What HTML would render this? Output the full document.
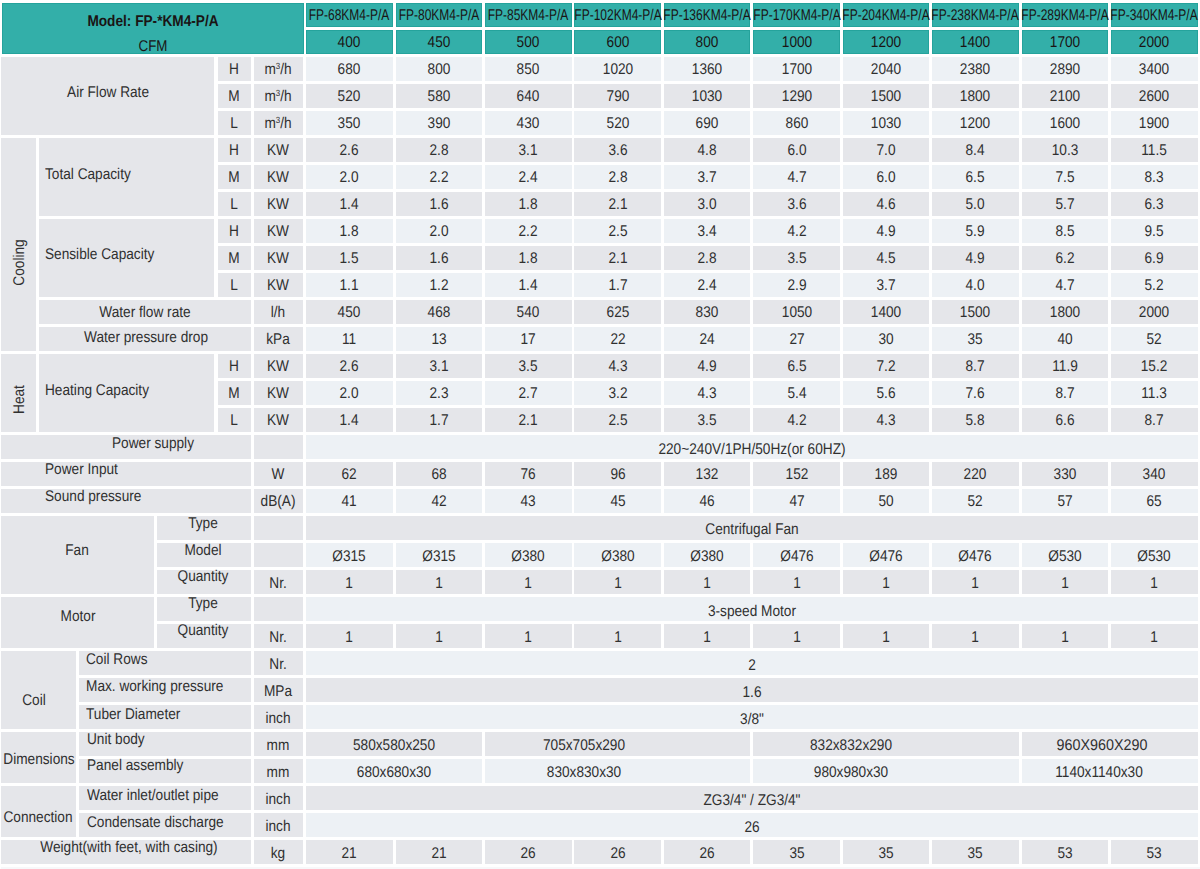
<!DOCTYPE html>
<html><head><meta charset="utf-8"><title>FP-KM4-P/A specifications</title>
<style>
html,body{margin:0;padding:0;background:#fff;text-rendering:geometricPrecision;}
#t{position:relative;width:1200px;height:869px;overflow:hidden;background:#fff;font-family:"Liberation Sans",Arial,sans-serif;color:#303030;}
#t div{position:absolute;}
.tl{background:#33afa9;box-shadow:inset 0 0 0 1px #25a39c;}
.x{white-space:nowrap;font-size:15.5px;line-height:17px;height:17px;}
.m{width:400px;text-align:center;transform-origin:200px 0;}
.l{transform-origin:0 0;}
.b{font-weight:bold;}
.h{color:#1a1414;}
sup{font-size:9px;vertical-align:0;position:relative;top:-5px;line-height:0;}
</style></head><body>
<div id="t">
<div class="tl" style="left:2.3px;top:3px;width:301.4px;height:50.8px"></div>
<div class="tl" style="left:306.15px;top:3px;width:86.6px;height:23.7px"></div>
<div class="tl" style="left:306.15px;top:30px;width:86.6px;height:23.8px"></div>
<div class="tl" style="left:395.57px;top:3px;width:86.6px;height:23.7px"></div>
<div class="tl" style="left:395.57px;top:30px;width:86.6px;height:23.8px"></div>
<div class="tl" style="left:484.99px;top:3px;width:86.6px;height:23.7px"></div>
<div class="tl" style="left:484.99px;top:30px;width:86.6px;height:23.8px"></div>
<div class="tl" style="left:574.41px;top:3px;width:86.6px;height:23.7px"></div>
<div class="tl" style="left:574.41px;top:30px;width:86.6px;height:23.8px"></div>
<div class="tl" style="left:663.83px;top:3px;width:86.6px;height:23.7px"></div>
<div class="tl" style="left:663.83px;top:30px;width:86.6px;height:23.8px"></div>
<div class="tl" style="left:753.25px;top:3px;width:86.6px;height:23.7px"></div>
<div class="tl" style="left:753.25px;top:30px;width:86.6px;height:23.8px"></div>
<div class="tl" style="left:842.67px;top:3px;width:86.6px;height:23.7px"></div>
<div class="tl" style="left:842.67px;top:30px;width:86.6px;height:23.8px"></div>
<div class="tl" style="left:932.09px;top:3px;width:86.6px;height:23.7px"></div>
<div class="tl" style="left:932.09px;top:30px;width:86.6px;height:23.8px"></div>
<div class="tl" style="left:1021.51px;top:3px;width:86.6px;height:23.7px"></div>
<div class="tl" style="left:1021.51px;top:30px;width:86.6px;height:23.8px"></div>
<div class="tl" style="left:1110.93px;top:3px;width:86.6px;height:23.7px"></div>
<div class="tl" style="left:1110.93px;top:30px;width:86.6px;height:23.8px"></div>
<div style="left:254.1px;top:57px;width:49.4px;height:24px;background:#e5e6ea"></div>
<div style="left:306.15px;top:57px;width:86.6px;height:24px;background:#edf1f5"></div>
<div style="left:395.57px;top:57px;width:86.6px;height:24px;background:#edf1f5"></div>
<div style="left:484.99px;top:57px;width:86.6px;height:24px;background:#edf1f5"></div>
<div style="left:574.41px;top:57px;width:86.6px;height:24px;background:#edf1f5"></div>
<div style="left:663.83px;top:57px;width:86.6px;height:24px;background:#edf1f5"></div>
<div style="left:753.25px;top:57px;width:86.6px;height:24px;background:#edf1f5"></div>
<div style="left:842.67px;top:57px;width:86.6px;height:24px;background:#edf1f5"></div>
<div style="left:932.09px;top:57px;width:86.6px;height:24px;background:#edf1f5"></div>
<div style="left:1021.51px;top:57px;width:86.6px;height:24px;background:#edf1f5"></div>
<div style="left:1110.93px;top:57px;width:86.6px;height:24px;background:#edf1f5"></div>
<div style="left:254.1px;top:84px;width:49.4px;height:24px;background:#e5e6ea"></div>
<div style="left:306.15px;top:84px;width:86.6px;height:24px;background:#e5e6ea"></div>
<div style="left:395.57px;top:84px;width:86.6px;height:24px;background:#e5e6ea"></div>
<div style="left:484.99px;top:84px;width:86.6px;height:24px;background:#e5e6ea"></div>
<div style="left:574.41px;top:84px;width:86.6px;height:24px;background:#e5e6ea"></div>
<div style="left:663.83px;top:84px;width:86.6px;height:24px;background:#e5e6ea"></div>
<div style="left:753.25px;top:84px;width:86.6px;height:24px;background:#e5e6ea"></div>
<div style="left:842.67px;top:84px;width:86.6px;height:24px;background:#e5e6ea"></div>
<div style="left:932.09px;top:84px;width:86.6px;height:24px;background:#e5e6ea"></div>
<div style="left:1021.51px;top:84px;width:86.6px;height:24px;background:#e5e6ea"></div>
<div style="left:1110.93px;top:84px;width:86.6px;height:24px;background:#e5e6ea"></div>
<div style="left:254.1px;top:111px;width:49.4px;height:24px;background:#e5e6ea"></div>
<div style="left:306.15px;top:111px;width:86.6px;height:24px;background:#edf1f5"></div>
<div style="left:395.57px;top:111px;width:86.6px;height:24px;background:#edf1f5"></div>
<div style="left:484.99px;top:111px;width:86.6px;height:24px;background:#edf1f5"></div>
<div style="left:574.41px;top:111px;width:86.6px;height:24px;background:#edf1f5"></div>
<div style="left:663.83px;top:111px;width:86.6px;height:24px;background:#edf1f5"></div>
<div style="left:753.25px;top:111px;width:86.6px;height:24px;background:#edf1f5"></div>
<div style="left:842.67px;top:111px;width:86.6px;height:24px;background:#edf1f5"></div>
<div style="left:932.09px;top:111px;width:86.6px;height:24px;background:#edf1f5"></div>
<div style="left:1021.51px;top:111px;width:86.6px;height:24px;background:#edf1f5"></div>
<div style="left:1110.93px;top:111px;width:86.6px;height:24px;background:#edf1f5"></div>
<div style="left:254.1px;top:138px;width:49.4px;height:24px;background:#e5e6ea"></div>
<div style="left:306.15px;top:138px;width:86.6px;height:24px;background:#e5e6ea"></div>
<div style="left:395.57px;top:138px;width:86.6px;height:24px;background:#e5e6ea"></div>
<div style="left:484.99px;top:138px;width:86.6px;height:24px;background:#e5e6ea"></div>
<div style="left:574.41px;top:138px;width:86.6px;height:24px;background:#e5e6ea"></div>
<div style="left:663.83px;top:138px;width:86.6px;height:24px;background:#e5e6ea"></div>
<div style="left:753.25px;top:138px;width:86.6px;height:24px;background:#e5e6ea"></div>
<div style="left:842.67px;top:138px;width:86.6px;height:24px;background:#e5e6ea"></div>
<div style="left:932.09px;top:138px;width:86.6px;height:24px;background:#e5e6ea"></div>
<div style="left:1021.51px;top:138px;width:86.6px;height:24px;background:#e5e6ea"></div>
<div style="left:1110.93px;top:138px;width:86.6px;height:24px;background:#e5e6ea"></div>
<div style="left:254.1px;top:165px;width:49.4px;height:24px;background:#e5e6ea"></div>
<div style="left:306.15px;top:165px;width:86.6px;height:24px;background:#edf1f5"></div>
<div style="left:395.57px;top:165px;width:86.6px;height:24px;background:#edf1f5"></div>
<div style="left:484.99px;top:165px;width:86.6px;height:24px;background:#edf1f5"></div>
<div style="left:574.41px;top:165px;width:86.6px;height:24px;background:#edf1f5"></div>
<div style="left:663.83px;top:165px;width:86.6px;height:24px;background:#edf1f5"></div>
<div style="left:753.25px;top:165px;width:86.6px;height:24px;background:#edf1f5"></div>
<div style="left:842.67px;top:165px;width:86.6px;height:24px;background:#edf1f5"></div>
<div style="left:932.09px;top:165px;width:86.6px;height:24px;background:#edf1f5"></div>
<div style="left:1021.51px;top:165px;width:86.6px;height:24px;background:#edf1f5"></div>
<div style="left:1110.93px;top:165px;width:86.6px;height:24px;background:#edf1f5"></div>
<div style="left:254.1px;top:192px;width:49.4px;height:24px;background:#e5e6ea"></div>
<div style="left:306.15px;top:192px;width:86.6px;height:24px;background:#e5e6ea"></div>
<div style="left:395.57px;top:192px;width:86.6px;height:24px;background:#e5e6ea"></div>
<div style="left:484.99px;top:192px;width:86.6px;height:24px;background:#e5e6ea"></div>
<div style="left:574.41px;top:192px;width:86.6px;height:24px;background:#e5e6ea"></div>
<div style="left:663.83px;top:192px;width:86.6px;height:24px;background:#e5e6ea"></div>
<div style="left:753.25px;top:192px;width:86.6px;height:24px;background:#e5e6ea"></div>
<div style="left:842.67px;top:192px;width:86.6px;height:24px;background:#e5e6ea"></div>
<div style="left:932.09px;top:192px;width:86.6px;height:24px;background:#e5e6ea"></div>
<div style="left:1021.51px;top:192px;width:86.6px;height:24px;background:#e5e6ea"></div>
<div style="left:1110.93px;top:192px;width:86.6px;height:24px;background:#e5e6ea"></div>
<div style="left:254.1px;top:219px;width:49.4px;height:24px;background:#e5e6ea"></div>
<div style="left:306.15px;top:219px;width:86.6px;height:24px;background:#edf1f5"></div>
<div style="left:395.57px;top:219px;width:86.6px;height:24px;background:#edf1f5"></div>
<div style="left:484.99px;top:219px;width:86.6px;height:24px;background:#edf1f5"></div>
<div style="left:574.41px;top:219px;width:86.6px;height:24px;background:#edf1f5"></div>
<div style="left:663.83px;top:219px;width:86.6px;height:24px;background:#edf1f5"></div>
<div style="left:753.25px;top:219px;width:86.6px;height:24px;background:#edf1f5"></div>
<div style="left:842.67px;top:219px;width:86.6px;height:24px;background:#edf1f5"></div>
<div style="left:932.09px;top:219px;width:86.6px;height:24px;background:#edf1f5"></div>
<div style="left:1021.51px;top:219px;width:86.6px;height:24px;background:#edf1f5"></div>
<div style="left:1110.93px;top:219px;width:86.6px;height:24px;background:#edf1f5"></div>
<div style="left:254.1px;top:246px;width:49.4px;height:24px;background:#e5e6ea"></div>
<div style="left:306.15px;top:246px;width:86.6px;height:24px;background:#e5e6ea"></div>
<div style="left:395.57px;top:246px;width:86.6px;height:24px;background:#e5e6ea"></div>
<div style="left:484.99px;top:246px;width:86.6px;height:24px;background:#e5e6ea"></div>
<div style="left:574.41px;top:246px;width:86.6px;height:24px;background:#e5e6ea"></div>
<div style="left:663.83px;top:246px;width:86.6px;height:24px;background:#e5e6ea"></div>
<div style="left:753.25px;top:246px;width:86.6px;height:24px;background:#e5e6ea"></div>
<div style="left:842.67px;top:246px;width:86.6px;height:24px;background:#e5e6ea"></div>
<div style="left:932.09px;top:246px;width:86.6px;height:24px;background:#e5e6ea"></div>
<div style="left:1021.51px;top:246px;width:86.6px;height:24px;background:#e5e6ea"></div>
<div style="left:1110.93px;top:246px;width:86.6px;height:24px;background:#e5e6ea"></div>
<div style="left:254.1px;top:273px;width:49.4px;height:24px;background:#e5e6ea"></div>
<div style="left:306.15px;top:273px;width:86.6px;height:24px;background:#edf1f5"></div>
<div style="left:395.57px;top:273px;width:86.6px;height:24px;background:#edf1f5"></div>
<div style="left:484.99px;top:273px;width:86.6px;height:24px;background:#edf1f5"></div>
<div style="left:574.41px;top:273px;width:86.6px;height:24px;background:#edf1f5"></div>
<div style="left:663.83px;top:273px;width:86.6px;height:24px;background:#edf1f5"></div>
<div style="left:753.25px;top:273px;width:86.6px;height:24px;background:#edf1f5"></div>
<div style="left:842.67px;top:273px;width:86.6px;height:24px;background:#edf1f5"></div>
<div style="left:932.09px;top:273px;width:86.6px;height:24px;background:#edf1f5"></div>
<div style="left:1021.51px;top:273px;width:86.6px;height:24px;background:#edf1f5"></div>
<div style="left:1110.93px;top:273px;width:86.6px;height:24px;background:#edf1f5"></div>
<div style="left:254.1px;top:300px;width:49.4px;height:24px;background:#e5e6ea"></div>
<div style="left:306.15px;top:300px;width:86.6px;height:24px;background:#e5e6ea"></div>
<div style="left:395.57px;top:300px;width:86.6px;height:24px;background:#e5e6ea"></div>
<div style="left:484.99px;top:300px;width:86.6px;height:24px;background:#e5e6ea"></div>
<div style="left:574.41px;top:300px;width:86.6px;height:24px;background:#e5e6ea"></div>
<div style="left:663.83px;top:300px;width:86.6px;height:24px;background:#e5e6ea"></div>
<div style="left:753.25px;top:300px;width:86.6px;height:24px;background:#e5e6ea"></div>
<div style="left:842.67px;top:300px;width:86.6px;height:24px;background:#e5e6ea"></div>
<div style="left:932.09px;top:300px;width:86.6px;height:24px;background:#e5e6ea"></div>
<div style="left:1021.51px;top:300px;width:86.6px;height:24px;background:#e5e6ea"></div>
<div style="left:1110.93px;top:300px;width:86.6px;height:24px;background:#e5e6ea"></div>
<div style="left:254.1px;top:327px;width:49.4px;height:24px;background:#e5e6ea"></div>
<div style="left:306.15px;top:327px;width:86.6px;height:24px;background:#edf1f5"></div>
<div style="left:395.57px;top:327px;width:86.6px;height:24px;background:#edf1f5"></div>
<div style="left:484.99px;top:327px;width:86.6px;height:24px;background:#edf1f5"></div>
<div style="left:574.41px;top:327px;width:86.6px;height:24px;background:#edf1f5"></div>
<div style="left:663.83px;top:327px;width:86.6px;height:24px;background:#edf1f5"></div>
<div style="left:753.25px;top:327px;width:86.6px;height:24px;background:#edf1f5"></div>
<div style="left:842.67px;top:327px;width:86.6px;height:24px;background:#edf1f5"></div>
<div style="left:932.09px;top:327px;width:86.6px;height:24px;background:#edf1f5"></div>
<div style="left:1021.51px;top:327px;width:86.6px;height:24px;background:#edf1f5"></div>
<div style="left:1110.93px;top:327px;width:86.6px;height:24px;background:#edf1f5"></div>
<div style="left:254.1px;top:354px;width:49.4px;height:24px;background:#e5e6ea"></div>
<div style="left:306.15px;top:354px;width:86.6px;height:24px;background:#e5e6ea"></div>
<div style="left:395.57px;top:354px;width:86.6px;height:24px;background:#e5e6ea"></div>
<div style="left:484.99px;top:354px;width:86.6px;height:24px;background:#e5e6ea"></div>
<div style="left:574.41px;top:354px;width:86.6px;height:24px;background:#e5e6ea"></div>
<div style="left:663.83px;top:354px;width:86.6px;height:24px;background:#e5e6ea"></div>
<div style="left:753.25px;top:354px;width:86.6px;height:24px;background:#e5e6ea"></div>
<div style="left:842.67px;top:354px;width:86.6px;height:24px;background:#e5e6ea"></div>
<div style="left:932.09px;top:354px;width:86.6px;height:24px;background:#e5e6ea"></div>
<div style="left:1021.51px;top:354px;width:86.6px;height:24px;background:#e5e6ea"></div>
<div style="left:1110.93px;top:354px;width:86.6px;height:24px;background:#e5e6ea"></div>
<div style="left:254.1px;top:381px;width:49.4px;height:24px;background:#e5e6ea"></div>
<div style="left:306.15px;top:381px;width:86.6px;height:24px;background:#edf1f5"></div>
<div style="left:395.57px;top:381px;width:86.6px;height:24px;background:#edf1f5"></div>
<div style="left:484.99px;top:381px;width:86.6px;height:24px;background:#edf1f5"></div>
<div style="left:574.41px;top:381px;width:86.6px;height:24px;background:#edf1f5"></div>
<div style="left:663.83px;top:381px;width:86.6px;height:24px;background:#edf1f5"></div>
<div style="left:753.25px;top:381px;width:86.6px;height:24px;background:#edf1f5"></div>
<div style="left:842.67px;top:381px;width:86.6px;height:24px;background:#edf1f5"></div>
<div style="left:932.09px;top:381px;width:86.6px;height:24px;background:#edf1f5"></div>
<div style="left:1021.51px;top:381px;width:86.6px;height:24px;background:#edf1f5"></div>
<div style="left:1110.93px;top:381px;width:86.6px;height:24px;background:#edf1f5"></div>
<div style="left:254.1px;top:408px;width:49.4px;height:24px;background:#e5e6ea"></div>
<div style="left:306.15px;top:408px;width:86.6px;height:24px;background:#e5e6ea"></div>
<div style="left:395.57px;top:408px;width:86.6px;height:24px;background:#e5e6ea"></div>
<div style="left:484.99px;top:408px;width:86.6px;height:24px;background:#e5e6ea"></div>
<div style="left:574.41px;top:408px;width:86.6px;height:24px;background:#e5e6ea"></div>
<div style="left:663.83px;top:408px;width:86.6px;height:24px;background:#e5e6ea"></div>
<div style="left:753.25px;top:408px;width:86.6px;height:24px;background:#e5e6ea"></div>
<div style="left:842.67px;top:408px;width:86.6px;height:24px;background:#e5e6ea"></div>
<div style="left:932.09px;top:408px;width:86.6px;height:24px;background:#e5e6ea"></div>
<div style="left:1021.51px;top:408px;width:86.6px;height:24px;background:#e5e6ea"></div>
<div style="left:1110.93px;top:408px;width:86.6px;height:24px;background:#e5e6ea"></div>
<div style="left:254.1px;top:435px;width:49.4px;height:24px;background:#e5e6ea"></div>
<div style="left:306.15px;top:435px;width:891.38px;height:24px;background:#edf1f5"></div>
<div style="left:254.1px;top:462px;width:49.4px;height:24px;background:#e5e6ea"></div>
<div style="left:306.15px;top:462px;width:86.6px;height:24px;background:#e5e6ea"></div>
<div style="left:395.57px;top:462px;width:86.6px;height:24px;background:#e5e6ea"></div>
<div style="left:484.99px;top:462px;width:86.6px;height:24px;background:#e5e6ea"></div>
<div style="left:574.41px;top:462px;width:86.6px;height:24px;background:#e5e6ea"></div>
<div style="left:663.83px;top:462px;width:86.6px;height:24px;background:#e5e6ea"></div>
<div style="left:753.25px;top:462px;width:86.6px;height:24px;background:#e5e6ea"></div>
<div style="left:842.67px;top:462px;width:86.6px;height:24px;background:#e5e6ea"></div>
<div style="left:932.09px;top:462px;width:86.6px;height:24px;background:#e5e6ea"></div>
<div style="left:1021.51px;top:462px;width:86.6px;height:24px;background:#e5e6ea"></div>
<div style="left:1110.93px;top:462px;width:86.6px;height:24px;background:#e5e6ea"></div>
<div style="left:254.1px;top:489px;width:49.4px;height:24px;background:#e5e6ea"></div>
<div style="left:306.15px;top:489px;width:86.6px;height:24px;background:#edf1f5"></div>
<div style="left:395.57px;top:489px;width:86.6px;height:24px;background:#edf1f5"></div>
<div style="left:484.99px;top:489px;width:86.6px;height:24px;background:#edf1f5"></div>
<div style="left:574.41px;top:489px;width:86.6px;height:24px;background:#edf1f5"></div>
<div style="left:663.83px;top:489px;width:86.6px;height:24px;background:#edf1f5"></div>
<div style="left:753.25px;top:489px;width:86.6px;height:24px;background:#edf1f5"></div>
<div style="left:842.67px;top:489px;width:86.6px;height:24px;background:#edf1f5"></div>
<div style="left:932.09px;top:489px;width:86.6px;height:24px;background:#edf1f5"></div>
<div style="left:1021.51px;top:489px;width:86.6px;height:24px;background:#edf1f5"></div>
<div style="left:1110.93px;top:489px;width:86.6px;height:24px;background:#edf1f5"></div>
<div style="left:254.1px;top:516px;width:49.4px;height:24px;background:#e5e6ea"></div>
<div style="left:306.15px;top:516px;width:891.38px;height:24px;background:#e5e6ea"></div>
<div style="left:254.1px;top:543px;width:49.4px;height:24px;background:#e5e6ea"></div>
<div style="left:306.15px;top:543px;width:86.6px;height:24px;background:#edf1f5"></div>
<div style="left:395.57px;top:543px;width:86.6px;height:24px;background:#edf1f5"></div>
<div style="left:484.99px;top:543px;width:86.6px;height:24px;background:#edf1f5"></div>
<div style="left:574.41px;top:543px;width:86.6px;height:24px;background:#edf1f5"></div>
<div style="left:663.83px;top:543px;width:86.6px;height:24px;background:#edf1f5"></div>
<div style="left:753.25px;top:543px;width:86.6px;height:24px;background:#edf1f5"></div>
<div style="left:842.67px;top:543px;width:86.6px;height:24px;background:#edf1f5"></div>
<div style="left:932.09px;top:543px;width:86.6px;height:24px;background:#edf1f5"></div>
<div style="left:1021.51px;top:543px;width:86.6px;height:24px;background:#edf1f5"></div>
<div style="left:1110.93px;top:543px;width:86.6px;height:24px;background:#edf1f5"></div>
<div style="left:254.1px;top:570px;width:49.4px;height:24px;background:#e5e6ea"></div>
<div style="left:306.15px;top:570px;width:86.6px;height:24px;background:#e5e6ea"></div>
<div style="left:395.57px;top:570px;width:86.6px;height:24px;background:#e5e6ea"></div>
<div style="left:484.99px;top:570px;width:86.6px;height:24px;background:#e5e6ea"></div>
<div style="left:574.41px;top:570px;width:86.6px;height:24px;background:#e5e6ea"></div>
<div style="left:663.83px;top:570px;width:86.6px;height:24px;background:#e5e6ea"></div>
<div style="left:753.25px;top:570px;width:86.6px;height:24px;background:#e5e6ea"></div>
<div style="left:842.67px;top:570px;width:86.6px;height:24px;background:#e5e6ea"></div>
<div style="left:932.09px;top:570px;width:86.6px;height:24px;background:#e5e6ea"></div>
<div style="left:1021.51px;top:570px;width:86.6px;height:24px;background:#e5e6ea"></div>
<div style="left:1110.93px;top:570px;width:86.6px;height:24px;background:#e5e6ea"></div>
<div style="left:254.1px;top:597px;width:49.4px;height:24px;background:#e5e6ea"></div>
<div style="left:306.15px;top:597px;width:891.38px;height:24px;background:#edf1f5"></div>
<div style="left:254.1px;top:624px;width:49.4px;height:24px;background:#e5e6ea"></div>
<div style="left:306.15px;top:624px;width:86.6px;height:24px;background:#e5e6ea"></div>
<div style="left:395.57px;top:624px;width:86.6px;height:24px;background:#e5e6ea"></div>
<div style="left:484.99px;top:624px;width:86.6px;height:24px;background:#e5e6ea"></div>
<div style="left:574.41px;top:624px;width:86.6px;height:24px;background:#e5e6ea"></div>
<div style="left:663.83px;top:624px;width:86.6px;height:24px;background:#e5e6ea"></div>
<div style="left:753.25px;top:624px;width:86.6px;height:24px;background:#e5e6ea"></div>
<div style="left:842.67px;top:624px;width:86.6px;height:24px;background:#e5e6ea"></div>
<div style="left:932.09px;top:624px;width:86.6px;height:24px;background:#e5e6ea"></div>
<div style="left:1021.51px;top:624px;width:86.6px;height:24px;background:#e5e6ea"></div>
<div style="left:1110.93px;top:624px;width:86.6px;height:24px;background:#e5e6ea"></div>
<div style="left:254.1px;top:651px;width:49.4px;height:24px;background:#e5e6ea"></div>
<div style="left:306.15px;top:651px;width:891.38px;height:24px;background:#edf1f5"></div>
<div style="left:254.1px;top:678px;width:49.4px;height:24px;background:#e5e6ea"></div>
<div style="left:306.15px;top:678px;width:891.38px;height:24px;background:#e5e6ea"></div>
<div style="left:254.1px;top:705px;width:49.4px;height:24px;background:#e5e6ea"></div>
<div style="left:306.15px;top:705px;width:891.38px;height:24px;background:#edf1f5"></div>
<div style="left:254.1px;top:732px;width:49.4px;height:24px;background:#e5e6ea"></div>
<div style="left:306.15px;top:732px;width:176.02px;height:24px;background:#e5e6ea"></div>
<div style="left:484.99px;top:732px;width:265.44px;height:24px;background:#e5e6ea"></div>
<div style="left:753.25px;top:732px;width:265.44px;height:24px;background:#e5e6ea"></div>
<div style="left:1021.51px;top:732px;width:176.02px;height:24px;background:#e5e6ea"></div>
<div style="left:254.1px;top:759px;width:49.4px;height:24px;background:#e5e6ea"></div>
<div style="left:306.15px;top:759px;width:176.02px;height:24px;background:#edf1f5"></div>
<div style="left:484.99px;top:759px;width:265.44px;height:24px;background:#edf1f5"></div>
<div style="left:753.25px;top:759px;width:265.44px;height:24px;background:#edf1f5"></div>
<div style="left:1021.51px;top:759px;width:176.02px;height:24px;background:#edf1f5"></div>
<div style="left:254.1px;top:786px;width:49.4px;height:24px;background:#e5e6ea"></div>
<div style="left:306.15px;top:786px;width:891.38px;height:24px;background:#e5e6ea"></div>
<div style="left:254.1px;top:813px;width:49.4px;height:24px;background:#e5e6ea"></div>
<div style="left:306.15px;top:813px;width:891.38px;height:24px;background:#edf1f5"></div>
<div style="left:254.1px;top:840px;width:49.4px;height:24px;background:#e5e6ea"></div>
<div style="left:306.15px;top:840px;width:86.6px;height:24px;background:#e5e6ea"></div>
<div style="left:395.57px;top:840px;width:86.6px;height:24px;background:#e5e6ea"></div>
<div style="left:484.99px;top:840px;width:86.6px;height:24px;background:#e5e6ea"></div>
<div style="left:574.41px;top:840px;width:86.6px;height:24px;background:#e5e6ea"></div>
<div style="left:663.83px;top:840px;width:86.6px;height:24px;background:#e5e6ea"></div>
<div style="left:753.25px;top:840px;width:86.6px;height:24px;background:#e5e6ea"></div>
<div style="left:842.67px;top:840px;width:86.6px;height:24px;background:#e5e6ea"></div>
<div style="left:932.09px;top:840px;width:86.6px;height:24px;background:#e5e6ea"></div>
<div style="left:1021.51px;top:840px;width:86.6px;height:24px;background:#e5e6ea"></div>
<div style="left:1110.93px;top:840px;width:86.6px;height:24px;background:#e5e6ea"></div>
<div style="left:1.2px;top:57px;width:213.2px;height:78px;background:#e5e6ea"></div>
<div style="left:217.6px;top:57px;width:33.2px;height:24px;background:#e5e6ea"></div>
<div style="left:217.6px;top:84px;width:33.2px;height:24px;background:#e5e6ea"></div>
<div style="left:217.6px;top:111px;width:33.2px;height:24px;background:#e5e6ea"></div>
<div style="left:1.2px;top:138px;width:34.6px;height:213px;background:#e5e6ea"></div>
<div style="left:39.2px;top:138px;width:175.2px;height:78px;background:#e5e6ea"></div>
<div style="left:39.2px;top:219px;width:175.2px;height:78px;background:#e5e6ea"></div>
<div style="left:217.6px;top:138px;width:33.2px;height:24px;background:#e5e6ea"></div>
<div style="left:217.6px;top:165px;width:33.2px;height:24px;background:#e5e6ea"></div>
<div style="left:217.6px;top:192px;width:33.2px;height:24px;background:#e5e6ea"></div>
<div style="left:217.6px;top:219px;width:33.2px;height:24px;background:#e5e6ea"></div>
<div style="left:217.6px;top:246px;width:33.2px;height:24px;background:#e5e6ea"></div>
<div style="left:217.6px;top:273px;width:33.2px;height:24px;background:#e5e6ea"></div>
<div style="left:39.2px;top:300px;width:211.6px;height:24px;background:#e5e6ea"></div>
<div style="left:39.2px;top:327px;width:211.6px;height:24px;background:#e5e6ea"></div>
<div style="left:1.2px;top:354px;width:34.6px;height:78px;background:#e5e6ea"></div>
<div style="left:39.2px;top:354px;width:175.2px;height:78px;background:#e5e6ea"></div>
<div style="left:217.6px;top:354px;width:33.2px;height:24px;background:#e5e6ea"></div>
<div style="left:217.6px;top:381px;width:33.2px;height:24px;background:#e5e6ea"></div>
<div style="left:217.6px;top:408px;width:33.2px;height:24px;background:#e5e6ea"></div>
<div style="left:1.2px;top:435px;width:249.6px;height:24px;background:#e5e6ea"></div>
<div style="left:1.2px;top:462px;width:249.6px;height:24px;background:#e5e6ea"></div>
<div style="left:1.2px;top:489px;width:249.6px;height:24px;background:#e5e6ea"></div>
<div style="left:1.2px;top:516px;width:152.8px;height:78px;background:#e5e6ea"></div>
<div style="left:156.6px;top:516px;width:94.2px;height:24px;background:#e5e6ea"></div>
<div style="left:156.6px;top:543px;width:94.2px;height:24px;background:#e5e6ea"></div>
<div style="left:156.6px;top:570px;width:94.2px;height:24px;background:#e5e6ea"></div>
<div style="left:1.2px;top:597px;width:152.8px;height:51px;background:#e5e6ea"></div>
<div style="left:156.6px;top:597px;width:94.2px;height:24px;background:#e5e6ea"></div>
<div style="left:156.6px;top:624px;width:94.2px;height:24px;background:#e5e6ea"></div>
<div style="left:1.2px;top:651px;width:74.8px;height:78px;background:#e5e6ea"></div>
<div style="left:78.7px;top:651px;width:172.1px;height:24px;background:#e5e6ea"></div>
<div style="left:78.7px;top:678px;width:172.1px;height:24px;background:#e5e6ea"></div>
<div style="left:78.7px;top:705px;width:172.1px;height:24px;background:#e5e6ea"></div>
<div style="left:1.2px;top:732px;width:74.8px;height:51px;background:#e5e6ea"></div>
<div style="left:78.7px;top:732px;width:172.1px;height:24px;background:#e5e6ea"></div>
<div style="left:78.7px;top:759px;width:172.1px;height:24px;background:#e5e6ea"></div>
<div style="left:1.2px;top:786px;width:74.8px;height:51px;background:#e5e6ea"></div>
<div style="left:78.7px;top:786px;width:172.1px;height:24px;background:#e5e6ea"></div>
<div style="left:78.7px;top:813px;width:172.1px;height:24px;background:#e5e6ea"></div>
<div style="left:1.2px;top:840px;width:249.6px;height:24px;background:#e5e6ea"></div>
<div style="left:1px;top:867px;width:1199px;height:2px;background:#f7f8fa"></div>
<div class="x b h m" style="left:-46.8px;top:12.7px;transform:scaleX(0.881)">Model: FP-*KM4-P/A</div>
<div class="x h m" style="left:-47.3px;top:37.7px;transform:scaleX(0.861)">CFM</div>
<div class="x h m" style="left:149.45px;top:6.6px;transform:scaleX(0.774)">FP-68KM4-P/A</div>
<div class="x h m" style="left:149.45px;top:33.6px;transform:scaleX(0.881)">400</div>
<div class="x h m" style="left:238.87px;top:6.6px;transform:scaleX(0.774)">FP-80KM4-P/A</div>
<div class="x h m" style="left:238.87px;top:33.6px;transform:scaleX(0.881)">450</div>
<div class="x h m" style="left:328.29px;top:6.6px;transform:scaleX(0.774)">FP-85KM4-P/A</div>
<div class="x h m" style="left:328.29px;top:33.6px;transform:scaleX(0.881)">500</div>
<div class="x h m" style="left:417.71px;top:6.6px;transform:scaleX(0.774)">FP-102KM4-P/A</div>
<div class="x h m" style="left:417.71px;top:33.6px;transform:scaleX(0.881)">600</div>
<div class="x h m" style="left:507.13px;top:6.6px;transform:scaleX(0.774)">FP-136KM4-P/A</div>
<div class="x h m" style="left:507.13px;top:33.6px;transform:scaleX(0.881)">800</div>
<div class="x h m" style="left:596.55px;top:6.6px;transform:scaleX(0.774)">FP-170KM4-P/A</div>
<div class="x h m" style="left:596.55px;top:33.6px;transform:scaleX(0.881)">1000</div>
<div class="x h m" style="left:685.97px;top:6.6px;transform:scaleX(0.774)">FP-204KM4-P/A</div>
<div class="x h m" style="left:685.97px;top:33.6px;transform:scaleX(0.881)">1200</div>
<div class="x h m" style="left:775.39px;top:6.6px;transform:scaleX(0.774)">FP-238KM4-P/A</div>
<div class="x h m" style="left:775.39px;top:33.6px;transform:scaleX(0.881)">1400</div>
<div class="x h m" style="left:864.81px;top:6.6px;transform:scaleX(0.774)">FP-289KM4-P/A</div>
<div class="x h m" style="left:864.81px;top:33.6px;transform:scaleX(0.881)">1700</div>
<div class="x h m" style="left:954.23px;top:6.6px;transform:scaleX(0.774)">FP-340KM4-P/A</div>
<div class="x h m" style="left:954.23px;top:33.6px;transform:scaleX(0.881)">2000</div>
<div class="x m" style="left:77.8px;top:60.9px;transform:scaleX(0.881)">m<sup>3</sup>/h</div>
<div class="x m" style="left:149.45px;top:60.9px;transform:scaleX(0.881)">680</div>
<div class="x m" style="left:238.87px;top:60.9px;transform:scaleX(0.881)">800</div>
<div class="x m" style="left:328.29px;top:60.9px;transform:scaleX(0.881)">850</div>
<div class="x m" style="left:417.71px;top:60.9px;transform:scaleX(0.881)">1020</div>
<div class="x m" style="left:507.13px;top:60.9px;transform:scaleX(0.881)">1360</div>
<div class="x m" style="left:596.55px;top:60.9px;transform:scaleX(0.881)">1700</div>
<div class="x m" style="left:685.97px;top:60.9px;transform:scaleX(0.881)">2040</div>
<div class="x m" style="left:775.39px;top:60.9px;transform:scaleX(0.881)">2380</div>
<div class="x m" style="left:864.81px;top:60.9px;transform:scaleX(0.881)">2890</div>
<div class="x m" style="left:954.23px;top:60.9px;transform:scaleX(0.881)">3400</div>
<div class="x m" style="left:77.8px;top:87.9px;transform:scaleX(0.881)">m<sup>3</sup>/h</div>
<div class="x m" style="left:149.45px;top:87.9px;transform:scaleX(0.881)">520</div>
<div class="x m" style="left:238.87px;top:87.9px;transform:scaleX(0.881)">580</div>
<div class="x m" style="left:328.29px;top:87.9px;transform:scaleX(0.881)">640</div>
<div class="x m" style="left:417.71px;top:87.9px;transform:scaleX(0.881)">790</div>
<div class="x m" style="left:507.13px;top:87.9px;transform:scaleX(0.881)">1030</div>
<div class="x m" style="left:596.55px;top:87.9px;transform:scaleX(0.881)">1290</div>
<div class="x m" style="left:685.97px;top:87.9px;transform:scaleX(0.881)">1500</div>
<div class="x m" style="left:775.39px;top:87.9px;transform:scaleX(0.881)">1800</div>
<div class="x m" style="left:864.81px;top:87.9px;transform:scaleX(0.881)">2100</div>
<div class="x m" style="left:954.23px;top:87.9px;transform:scaleX(0.881)">2600</div>
<div class="x m" style="left:77.8px;top:114.9px;transform:scaleX(0.881)">m<sup>3</sup>/h</div>
<div class="x m" style="left:149.45px;top:114.9px;transform:scaleX(0.881)">350</div>
<div class="x m" style="left:238.87px;top:114.9px;transform:scaleX(0.881)">390</div>
<div class="x m" style="left:328.29px;top:114.9px;transform:scaleX(0.881)">430</div>
<div class="x m" style="left:417.71px;top:114.9px;transform:scaleX(0.881)">520</div>
<div class="x m" style="left:507.13px;top:114.9px;transform:scaleX(0.881)">690</div>
<div class="x m" style="left:596.55px;top:114.9px;transform:scaleX(0.881)">860</div>
<div class="x m" style="left:685.97px;top:114.9px;transform:scaleX(0.881)">1030</div>
<div class="x m" style="left:775.39px;top:114.9px;transform:scaleX(0.881)">1200</div>
<div class="x m" style="left:864.81px;top:114.9px;transform:scaleX(0.881)">1600</div>
<div class="x m" style="left:954.23px;top:114.9px;transform:scaleX(0.881)">1900</div>
<div class="x m" style="left:77.8px;top:141.9px;transform:scaleX(0.881)">KW</div>
<div class="x m" style="left:149.45px;top:141.9px;transform:scaleX(0.881)">2.6</div>
<div class="x m" style="left:238.87px;top:141.9px;transform:scaleX(0.881)">2.8</div>
<div class="x m" style="left:328.29px;top:141.9px;transform:scaleX(0.881)">3.1</div>
<div class="x m" style="left:417.71px;top:141.9px;transform:scaleX(0.881)">3.6</div>
<div class="x m" style="left:507.13px;top:141.9px;transform:scaleX(0.881)">4.8</div>
<div class="x m" style="left:596.55px;top:141.9px;transform:scaleX(0.881)">6.0</div>
<div class="x m" style="left:685.97px;top:141.9px;transform:scaleX(0.881)">7.0</div>
<div class="x m" style="left:775.39px;top:141.9px;transform:scaleX(0.881)">8.4</div>
<div class="x m" style="left:864.81px;top:141.9px;transform:scaleX(0.881)">10.3</div>
<div class="x m" style="left:954.23px;top:141.9px;transform:scaleX(0.881)">11.5</div>
<div class="x m" style="left:77.8px;top:168.9px;transform:scaleX(0.881)">KW</div>
<div class="x m" style="left:149.45px;top:168.9px;transform:scaleX(0.881)">2.0</div>
<div class="x m" style="left:238.87px;top:168.9px;transform:scaleX(0.881)">2.2</div>
<div class="x m" style="left:328.29px;top:168.9px;transform:scaleX(0.881)">2.4</div>
<div class="x m" style="left:417.71px;top:168.9px;transform:scaleX(0.881)">2.8</div>
<div class="x m" style="left:507.13px;top:168.9px;transform:scaleX(0.881)">3.7</div>
<div class="x m" style="left:596.55px;top:168.9px;transform:scaleX(0.881)">4.7</div>
<div class="x m" style="left:685.97px;top:168.9px;transform:scaleX(0.881)">6.0</div>
<div class="x m" style="left:775.39px;top:168.9px;transform:scaleX(0.881)">6.5</div>
<div class="x m" style="left:864.81px;top:168.9px;transform:scaleX(0.881)">7.5</div>
<div class="x m" style="left:954.23px;top:168.9px;transform:scaleX(0.881)">8.3</div>
<div class="x m" style="left:77.8px;top:195.9px;transform:scaleX(0.881)">KW</div>
<div class="x m" style="left:149.45px;top:195.9px;transform:scaleX(0.881)">1.4</div>
<div class="x m" style="left:238.87px;top:195.9px;transform:scaleX(0.881)">1.6</div>
<div class="x m" style="left:328.29px;top:195.9px;transform:scaleX(0.881)">1.8</div>
<div class="x m" style="left:417.71px;top:195.9px;transform:scaleX(0.881)">2.1</div>
<div class="x m" style="left:507.13px;top:195.9px;transform:scaleX(0.881)">3.0</div>
<div class="x m" style="left:596.55px;top:195.9px;transform:scaleX(0.881)">3.6</div>
<div class="x m" style="left:685.97px;top:195.9px;transform:scaleX(0.881)">4.6</div>
<div class="x m" style="left:775.39px;top:195.9px;transform:scaleX(0.881)">5.0</div>
<div class="x m" style="left:864.81px;top:195.9px;transform:scaleX(0.881)">5.7</div>
<div class="x m" style="left:954.23px;top:195.9px;transform:scaleX(0.881)">6.3</div>
<div class="x m" style="left:77.8px;top:222.9px;transform:scaleX(0.881)">KW</div>
<div class="x m" style="left:149.45px;top:222.9px;transform:scaleX(0.881)">1.8</div>
<div class="x m" style="left:238.87px;top:222.9px;transform:scaleX(0.881)">2.0</div>
<div class="x m" style="left:328.29px;top:222.9px;transform:scaleX(0.881)">2.2</div>
<div class="x m" style="left:417.71px;top:222.9px;transform:scaleX(0.881)">2.5</div>
<div class="x m" style="left:507.13px;top:222.9px;transform:scaleX(0.881)">3.4</div>
<div class="x m" style="left:596.55px;top:222.9px;transform:scaleX(0.881)">4.2</div>
<div class="x m" style="left:685.97px;top:222.9px;transform:scaleX(0.881)">4.9</div>
<div class="x m" style="left:775.39px;top:222.9px;transform:scaleX(0.881)">5.9</div>
<div class="x m" style="left:864.81px;top:222.9px;transform:scaleX(0.881)">8.5</div>
<div class="x m" style="left:954.23px;top:222.9px;transform:scaleX(0.881)">9.5</div>
<div class="x m" style="left:77.8px;top:249.9px;transform:scaleX(0.881)">KW</div>
<div class="x m" style="left:149.45px;top:249.9px;transform:scaleX(0.881)">1.5</div>
<div class="x m" style="left:238.87px;top:249.9px;transform:scaleX(0.881)">1.6</div>
<div class="x m" style="left:328.29px;top:249.9px;transform:scaleX(0.881)">1.8</div>
<div class="x m" style="left:417.71px;top:249.9px;transform:scaleX(0.881)">2.1</div>
<div class="x m" style="left:507.13px;top:249.9px;transform:scaleX(0.881)">2.8</div>
<div class="x m" style="left:596.55px;top:249.9px;transform:scaleX(0.881)">3.5</div>
<div class="x m" style="left:685.97px;top:249.9px;transform:scaleX(0.881)">4.5</div>
<div class="x m" style="left:775.39px;top:249.9px;transform:scaleX(0.881)">4.9</div>
<div class="x m" style="left:864.81px;top:249.9px;transform:scaleX(0.881)">6.2</div>
<div class="x m" style="left:954.23px;top:249.9px;transform:scaleX(0.881)">6.9</div>
<div class="x m" style="left:77.8px;top:276.9px;transform:scaleX(0.881)">KW</div>
<div class="x m" style="left:149.45px;top:276.9px;transform:scaleX(0.881)">1.1</div>
<div class="x m" style="left:238.87px;top:276.9px;transform:scaleX(0.881)">1.2</div>
<div class="x m" style="left:328.29px;top:276.9px;transform:scaleX(0.881)">1.4</div>
<div class="x m" style="left:417.71px;top:276.9px;transform:scaleX(0.881)">1.7</div>
<div class="x m" style="left:507.13px;top:276.9px;transform:scaleX(0.881)">2.4</div>
<div class="x m" style="left:596.55px;top:276.9px;transform:scaleX(0.881)">2.9</div>
<div class="x m" style="left:685.97px;top:276.9px;transform:scaleX(0.881)">3.7</div>
<div class="x m" style="left:775.39px;top:276.9px;transform:scaleX(0.881)">4.0</div>
<div class="x m" style="left:864.81px;top:276.9px;transform:scaleX(0.881)">4.7</div>
<div class="x m" style="left:954.23px;top:276.9px;transform:scaleX(0.881)">5.2</div>
<div class="x m" style="left:77.8px;top:303.9px;transform:scaleX(0.881)">l/h</div>
<div class="x m" style="left:149.45px;top:303.9px;transform:scaleX(0.881)">450</div>
<div class="x m" style="left:238.87px;top:303.9px;transform:scaleX(0.881)">468</div>
<div class="x m" style="left:328.29px;top:303.9px;transform:scaleX(0.881)">540</div>
<div class="x m" style="left:417.71px;top:303.9px;transform:scaleX(0.881)">625</div>
<div class="x m" style="left:507.13px;top:303.9px;transform:scaleX(0.881)">830</div>
<div class="x m" style="left:596.55px;top:303.9px;transform:scaleX(0.881)">1050</div>
<div class="x m" style="left:685.97px;top:303.9px;transform:scaleX(0.881)">1400</div>
<div class="x m" style="left:775.39px;top:303.9px;transform:scaleX(0.881)">1500</div>
<div class="x m" style="left:864.81px;top:303.9px;transform:scaleX(0.881)">1800</div>
<div class="x m" style="left:954.23px;top:303.9px;transform:scaleX(0.881)">2000</div>
<div class="x m" style="left:77.8px;top:330.9px;transform:scaleX(0.881)">kPa</div>
<div class="x m" style="left:149.45px;top:330.9px;transform:scaleX(0.881)">11</div>
<div class="x m" style="left:238.87px;top:330.9px;transform:scaleX(0.881)">13</div>
<div class="x m" style="left:328.29px;top:330.9px;transform:scaleX(0.881)">17</div>
<div class="x m" style="left:417.71px;top:330.9px;transform:scaleX(0.881)">22</div>
<div class="x m" style="left:507.13px;top:330.9px;transform:scaleX(0.881)">24</div>
<div class="x m" style="left:596.55px;top:330.9px;transform:scaleX(0.881)">27</div>
<div class="x m" style="left:685.97px;top:330.9px;transform:scaleX(0.881)">30</div>
<div class="x m" style="left:775.39px;top:330.9px;transform:scaleX(0.881)">35</div>
<div class="x m" style="left:864.81px;top:330.9px;transform:scaleX(0.881)">40</div>
<div class="x m" style="left:954.23px;top:330.9px;transform:scaleX(0.881)">52</div>
<div class="x m" style="left:77.8px;top:357.9px;transform:scaleX(0.881)">KW</div>
<div class="x m" style="left:149.45px;top:357.9px;transform:scaleX(0.881)">2.6</div>
<div class="x m" style="left:238.87px;top:357.9px;transform:scaleX(0.881)">3.1</div>
<div class="x m" style="left:328.29px;top:357.9px;transform:scaleX(0.881)">3.5</div>
<div class="x m" style="left:417.71px;top:357.9px;transform:scaleX(0.881)">4.3</div>
<div class="x m" style="left:507.13px;top:357.9px;transform:scaleX(0.881)">4.9</div>
<div class="x m" style="left:596.55px;top:357.9px;transform:scaleX(0.881)">6.5</div>
<div class="x m" style="left:685.97px;top:357.9px;transform:scaleX(0.881)">7.2</div>
<div class="x m" style="left:775.39px;top:357.9px;transform:scaleX(0.881)">8.7</div>
<div class="x m" style="left:864.81px;top:357.9px;transform:scaleX(0.881)">11.9</div>
<div class="x m" style="left:954.23px;top:357.9px;transform:scaleX(0.881)">15.2</div>
<div class="x m" style="left:77.8px;top:384.9px;transform:scaleX(0.881)">KW</div>
<div class="x m" style="left:149.45px;top:384.9px;transform:scaleX(0.881)">2.0</div>
<div class="x m" style="left:238.87px;top:384.9px;transform:scaleX(0.881)">2.3</div>
<div class="x m" style="left:328.29px;top:384.9px;transform:scaleX(0.881)">2.7</div>
<div class="x m" style="left:417.71px;top:384.9px;transform:scaleX(0.881)">3.2</div>
<div class="x m" style="left:507.13px;top:384.9px;transform:scaleX(0.881)">4.3</div>
<div class="x m" style="left:596.55px;top:384.9px;transform:scaleX(0.881)">5.4</div>
<div class="x m" style="left:685.97px;top:384.9px;transform:scaleX(0.881)">5.6</div>
<div class="x m" style="left:775.39px;top:384.9px;transform:scaleX(0.881)">7.6</div>
<div class="x m" style="left:864.81px;top:384.9px;transform:scaleX(0.881)">8.7</div>
<div class="x m" style="left:954.23px;top:384.9px;transform:scaleX(0.881)">11.3</div>
<div class="x m" style="left:77.8px;top:412.01px;transform:scaleX(0.881)">KW</div>
<div class="x m" style="left:149.45px;top:412.01px;transform:scaleX(0.881)">1.4</div>
<div class="x m" style="left:238.87px;top:412.01px;transform:scaleX(0.881)">1.7</div>
<div class="x m" style="left:328.29px;top:412.01px;transform:scaleX(0.881)">2.1</div>
<div class="x m" style="left:417.71px;top:412.01px;transform:scaleX(0.881)">2.5</div>
<div class="x m" style="left:507.13px;top:412.01px;transform:scaleX(0.881)">3.5</div>
<div class="x m" style="left:596.55px;top:412.01px;transform:scaleX(0.881)">4.2</div>
<div class="x m" style="left:685.97px;top:412.01px;transform:scaleX(0.881)">4.3</div>
<div class="x m" style="left:775.39px;top:412.01px;transform:scaleX(0.881)">5.8</div>
<div class="x m" style="left:864.81px;top:412.01px;transform:scaleX(0.881)">6.6</div>
<div class="x m" style="left:954.23px;top:412.01px;transform:scaleX(0.881)">8.7</div>
<div class="x m" style="left:551.84px;top:440.9px;transform:scaleX(0.881)">220~240V/1PH/50Hz(or 60HZ)</div>
<div class="x m" style="left:77.8px;top:466.23px;transform:scaleX(0.881)">W</div>
<div class="x m" style="left:149.45px;top:466.23px;transform:scaleX(0.881)">62</div>
<div class="x m" style="left:238.87px;top:466.23px;transform:scaleX(0.881)">68</div>
<div class="x m" style="left:328.29px;top:466.23px;transform:scaleX(0.881)">76</div>
<div class="x m" style="left:417.71px;top:466.23px;transform:scaleX(0.881)">96</div>
<div class="x m" style="left:507.13px;top:466.23px;transform:scaleX(0.881)">132</div>
<div class="x m" style="left:596.55px;top:466.23px;transform:scaleX(0.881)">152</div>
<div class="x m" style="left:685.97px;top:466.23px;transform:scaleX(0.881)">189</div>
<div class="x m" style="left:775.39px;top:466.23px;transform:scaleX(0.881)">220</div>
<div class="x m" style="left:864.81px;top:466.23px;transform:scaleX(0.881)">330</div>
<div class="x m" style="left:954.23px;top:466.23px;transform:scaleX(0.881)">340</div>
<div class="x m" style="left:77.8px;top:493.34px;transform:scaleX(0.881)">dB(A)</div>
<div class="x m" style="left:149.45px;top:493.34px;transform:scaleX(0.881)">41</div>
<div class="x m" style="left:238.87px;top:493.34px;transform:scaleX(0.881)">42</div>
<div class="x m" style="left:328.29px;top:493.34px;transform:scaleX(0.881)">43</div>
<div class="x m" style="left:417.71px;top:493.34px;transform:scaleX(0.881)">45</div>
<div class="x m" style="left:507.13px;top:493.34px;transform:scaleX(0.881)">46</div>
<div class="x m" style="left:596.55px;top:493.34px;transform:scaleX(0.881)">47</div>
<div class="x m" style="left:685.97px;top:493.34px;transform:scaleX(0.881)">50</div>
<div class="x m" style="left:775.39px;top:493.34px;transform:scaleX(0.881)">52</div>
<div class="x m" style="left:864.81px;top:493.34px;transform:scaleX(0.881)">57</div>
<div class="x m" style="left:954.23px;top:493.34px;transform:scaleX(0.881)">65</div>
<div class="x m" style="left:551.84px;top:521.1px;transform:scaleX(0.881)">Centrifugal Fan</div>
<div class="x m" style="left:149.45px;top:547.57px;transform:scaleX(0.881)">Ø315</div>
<div class="x m" style="left:238.87px;top:547.57px;transform:scaleX(0.881)">Ø315</div>
<div class="x m" style="left:328.29px;top:547.57px;transform:scaleX(0.881)">Ø380</div>
<div class="x m" style="left:417.71px;top:547.57px;transform:scaleX(0.881)">Ø380</div>
<div class="x m" style="left:507.13px;top:547.57px;transform:scaleX(0.881)">Ø380</div>
<div class="x m" style="left:596.55px;top:547.57px;transform:scaleX(0.881)">Ø476</div>
<div class="x m" style="left:685.97px;top:547.57px;transform:scaleX(0.881)">Ø476</div>
<div class="x m" style="left:775.39px;top:547.57px;transform:scaleX(0.881)">Ø476</div>
<div class="x m" style="left:864.81px;top:547.57px;transform:scaleX(0.881)">Ø530</div>
<div class="x m" style="left:954.23px;top:547.57px;transform:scaleX(0.881)">Ø530</div>
<div class="x m" style="left:77.8px;top:574.68px;transform:scaleX(0.881)">Nr.</div>
<div class="x m" style="left:149.45px;top:574.68px;transform:scaleX(0.881)">1</div>
<div class="x m" style="left:238.87px;top:574.68px;transform:scaleX(0.881)">1</div>
<div class="x m" style="left:328.29px;top:574.68px;transform:scaleX(0.881)">1</div>
<div class="x m" style="left:417.71px;top:574.68px;transform:scaleX(0.881)">1</div>
<div class="x m" style="left:507.13px;top:574.68px;transform:scaleX(0.881)">1</div>
<div class="x m" style="left:596.55px;top:574.68px;transform:scaleX(0.881)">1</div>
<div class="x m" style="left:685.97px;top:574.68px;transform:scaleX(0.881)">1</div>
<div class="x m" style="left:775.39px;top:574.68px;transform:scaleX(0.881)">1</div>
<div class="x m" style="left:864.81px;top:574.68px;transform:scaleX(0.881)">1</div>
<div class="x m" style="left:954.23px;top:574.68px;transform:scaleX(0.881)">1</div>
<div class="x m" style="left:551.84px;top:602.9px;transform:scaleX(0.881)">3-speed Motor</div>
<div class="x m" style="left:77.8px;top:628.9px;transform:scaleX(0.881)">Nr.</div>
<div class="x m" style="left:149.45px;top:628.9px;transform:scaleX(0.881)">1</div>
<div class="x m" style="left:238.87px;top:628.9px;transform:scaleX(0.881)">1</div>
<div class="x m" style="left:328.29px;top:628.9px;transform:scaleX(0.881)">1</div>
<div class="x m" style="left:417.71px;top:628.9px;transform:scaleX(0.881)">1</div>
<div class="x m" style="left:507.13px;top:628.9px;transform:scaleX(0.881)">1</div>
<div class="x m" style="left:596.55px;top:628.9px;transform:scaleX(0.881)">1</div>
<div class="x m" style="left:685.97px;top:628.9px;transform:scaleX(0.881)">1</div>
<div class="x m" style="left:775.39px;top:628.9px;transform:scaleX(0.881)">1</div>
<div class="x m" style="left:864.81px;top:628.9px;transform:scaleX(0.881)">1</div>
<div class="x m" style="left:954.23px;top:628.9px;transform:scaleX(0.881)">1</div>
<div class="x m" style="left:77.8px;top:655.9px;transform:scaleX(0.881)">Nr.</div>
<div class="x m" style="left:551.84px;top:656.9px;transform:scaleX(0.881)">2</div>
<div class="x m" style="left:77.8px;top:682.9px;transform:scaleX(0.881)">MPa</div>
<div class="x m" style="left:551.84px;top:683.9px;transform:scaleX(0.881)">1.6</div>
<div class="x m" style="left:77.8px;top:709.9px;transform:scaleX(0.881)">inch</div>
<div class="x m" style="left:551.84px;top:710.6px;transform:scaleX(0.881)">3/8"</div>
<div class="x m" style="left:77.8px;top:736.9px;transform:scaleX(0.881)">mm</div>
<div class="x m" style="left:193.8px;top:737.1px;transform:scaleX(0.881)">580x580x250</div>
<div class="x m" style="left:383.9px;top:737.1px;transform:scaleX(0.881)">705x705x290</div>
<div class="x m" style="left:651.2px;top:737.1px;transform:scaleX(0.881)">832x832x290</div>
<div class="x m" style="left:902.1px;top:737.1px;transform:scaleX(0.924)">960X960X290</div>
<div class="x m" style="left:77.8px;top:763.9px;transform:scaleX(0.881)">mm</div>
<div class="x m" style="left:194px;top:764.1px;transform:scaleX(0.881)">680x680x30</div>
<div class="x m" style="left:383.9px;top:764.1px;transform:scaleX(0.881)">830x830x30</div>
<div class="x m" style="left:651.2px;top:764.1px;transform:scaleX(0.881)">980x980x30</div>
<div class="x m" style="left:899.3px;top:764.1px;transform:scaleX(0.881)">1140x1140x30</div>
<div class="x m" style="left:77.8px;top:790.9px;transform:scaleX(0.881)">inch</div>
<div class="x m" style="left:551.84px;top:792.1px;transform:scaleX(0.881)">ZG3/4" / ZG3/4"</div>
<div class="x m" style="left:77.8px;top:817.9px;transform:scaleX(0.881)">inch</div>
<div class="x m" style="left:551.84px;top:819.4px;transform:scaleX(0.881)">26</div>
<div class="x m" style="left:77.8px;top:844.9px;transform:scaleX(0.881)">kg</div>
<div class="x m" style="left:149.45px;top:844.9px;transform:scaleX(0.881)">21</div>
<div class="x m" style="left:238.87px;top:844.9px;transform:scaleX(0.881)">21</div>
<div class="x m" style="left:328.29px;top:844.9px;transform:scaleX(0.881)">26</div>
<div class="x m" style="left:417.71px;top:844.9px;transform:scaleX(0.881)">26</div>
<div class="x m" style="left:507.13px;top:844.9px;transform:scaleX(0.881)">26</div>
<div class="x m" style="left:596.55px;top:844.9px;transform:scaleX(0.881)">35</div>
<div class="x m" style="left:685.97px;top:844.9px;transform:scaleX(0.881)">35</div>
<div class="x m" style="left:775.39px;top:844.9px;transform:scaleX(0.881)">35</div>
<div class="x m" style="left:864.81px;top:844.9px;transform:scaleX(0.881)">53</div>
<div class="x m" style="left:954.23px;top:844.9px;transform:scaleX(0.881)">53</div>
<div class="x m" style="left:-92px;top:84.1px;transform:scaleX(0.881)">Air Flow Rate</div>
<div class="x m" style="left:34.2px;top:60.7px;transform:scaleX(0.881)">H</div>
<div class="x m" style="left:34.2px;top:87.7px;transform:scaleX(0.881)">M</div>
<div class="x m" style="left:34.2px;top:114.7px;transform:scaleX(0.881)">L</div>
<div class="x m" style="left:-181.5px;top:254.3px;transform-origin:200px 8.5px;transform:rotate(-90deg) scaleX(0.881)">Cooling</div>
<div class="x l" style="left:44.75px;top:165.65px;transform:scaleX(0.881)">Total Capacity</div>
<div class="x l" style="left:44.75px;top:246.3px;transform:scaleX(0.881)">Sensible Capacity</div>
<div class="x m" style="left:34.2px;top:141.7px;transform:scaleX(0.881)">H</div>
<div class="x m" style="left:34.2px;top:168.7px;transform:scaleX(0.881)">M</div>
<div class="x m" style="left:34.2px;top:195.7px;transform:scaleX(0.881)">L</div>
<div class="x m" style="left:34.2px;top:222.7px;transform:scaleX(0.881)">H</div>
<div class="x m" style="left:34.2px;top:249.7px;transform:scaleX(0.881)">M</div>
<div class="x m" style="left:34.2px;top:276.7px;transform:scaleX(0.881)">L</div>
<div class="x m" style="left:-54.7px;top:303.65px;transform:scaleX(0.881)">Water flow rate</div>
<div class="x m" style="left:-54.1px;top:329.3px;transform:scaleX(0.881)">Water pressure drop</div>
<div class="x m" style="left:-181.5px;top:390.9px;transform-origin:200px 8.5px;transform:rotate(-90deg) scaleX(0.881)">Heat</div>
<div class="x l" style="left:44.7px;top:381.6px;transform:scaleX(0.881)">Heating Capacity</div>
<div class="x m" style="left:34.2px;top:357.7px;transform:scaleX(0.881)">H</div>
<div class="x m" style="left:34.2px;top:384.7px;transform:scaleX(0.881)">M</div>
<div class="x m" style="left:34.2px;top:411.7px;transform:scaleX(0.881)">L</div>
<div class="x m" style="left:-46.7px;top:434.7px;transform:scaleX(0.881)">Power supply</div>
<div class="x l" style="left:45.3px;top:461.1px;transform:scaleX(0.881)">Power Input</div>
<div class="x l" style="left:45px;top:488.2px;transform:scaleX(0.881)">Sound pressure</div>
<div class="x m" style="left:-122.9px;top:541.5px;transform:scaleX(0.881)">Fan</div>
<div class="x m" style="left:3.4px;top:515.2px;transform:scaleX(0.881)">Type</div>
<div class="x m" style="left:3.4px;top:541.8px;transform:scaleX(0.881)">Model</div>
<div class="x m" style="left:3.4px;top:568.4px;transform:scaleX(0.881)">Quantity</div>
<div class="x m" style="left:-122.2px;top:608.4px;transform:scaleX(0.881)">Motor</div>
<div class="x m" style="left:3.4px;top:595.2px;transform:scaleX(0.881)">Type</div>
<div class="x m" style="left:3.4px;top:621.9px;transform:scaleX(0.881)">Quantity</div>
<div class="x m" style="left:-165.9px;top:692.2px;transform:scaleX(0.881)">Coil</div>
<div class="x l" style="left:86px;top:650.6px;transform:scaleX(0.881)">Coil Rows</div>
<div class="x l" style="left:86px;top:677.6px;transform:scaleX(0.881)">Max. working pressure</div>
<div class="x l" style="left:86px;top:705.6px;transform:scaleX(0.881)">Tuber Diameter</div>
<div class="x m" style="left:-160.8px;top:751.3px;transform:scaleX(0.881)">Dimensions</div>
<div class="x l" style="left:86.5px;top:731.15px;transform:scaleX(0.881)">Unit body</div>
<div class="x l" style="left:86.5px;top:757.4px;transform:scaleX(0.881)">Panel assembly</div>
<div class="x m" style="left:-162.4px;top:808.5px;transform:scaleX(0.881)">Connection</div>
<div class="x l" style="left:86.5px;top:787.4px;transform:scaleX(0.881)">Water inlet/outlet pipe</div>
<div class="x l" style="left:86.5px;top:813.7px;transform:scaleX(0.881)">Condensate discharge</div>
<div class="x m" style="left:-71.2px;top:839.3px;transform:scaleX(0.881)">Weight(with feet, with casing)</div>
</div>
</body></html>
